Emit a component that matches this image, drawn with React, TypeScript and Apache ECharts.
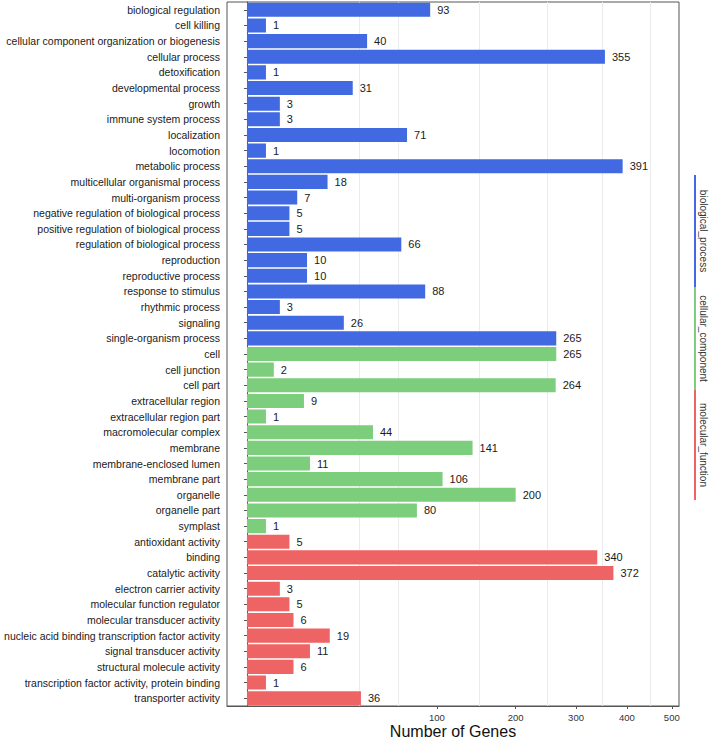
import React, { useEffect, useRef } from "react";
import * as echarts from "echarts";

const bpTerms = [
  "biological regulation", "cell killing", "cellular component organization or biogenesis",
  "cellular process", "detoxification", "developmental process", "growth",
  "immune system process", "localization", "locomotion", "metabolic process",
  "multicellular organismal process", "multi-organism process",
  "negative regulation of biological process", "positive regulation of biological process",
  "regulation of biological process", "reproduction", "reproductive process",
  "response to stimulus", "rhythmic process", "signaling", "single-organism process",
];
const bpValues = [93, 1, 40, 355, 1, 31, 3, 3, 71, 1, 391, 18, 7, 5, 5, 66, 10, 10, 88, 3, 26, 265];

const ccTerms = [
  "cell", "cell junction", "cell part", "extracellular region", "extracellular region part",
  "macromolecular complex", "membrane", "membrane-enclosed lumen", "membrane part",
  "organelle", "organelle part", "symplast",
];
const ccValues = [265, 2, 264, 9, 1, 44, 141, 11, 106, 200, 80, 1];

const mfTerms = [
  "antioxidant activity", "binding", "catalytic activity", "electron carrier activity",
  "molecular function regulator", "molecular transducer activity",
  "nucleic acid binding transcription factor activity", "signal transducer activity",
  "structural molecule activity", "transcription factor activity, protein binding",
  "transporter activity",
];
const mfValues = [5, 340, 372, 3, 5, 6, 19, 11, 6, 1, 36];

const ontologies = ["biological_process", "cellular_component", "molecular_function"];
const ontologyColors = ["#4169E1", "#7CCD7C", "#EE6363"];

const xTicks = [100, 200, 300, 400, 500];
const gridValues = [35, 63, 150, 250, 350, 450];

const FONT = "'Liberation Sans', Arial, Helvetica, sans-serif";

export default function App() {
  const ref = useRef<HTMLDivElement>(null);

  useEffect(() => {
    if (!ref.current) return;
    const chart = echarts.init(ref.current, null, { renderer: "svg" });

    const groups = [
      { terms: bpTerms, values: bpValues, color: ontologyColors[0] },
      { terms: ccTerms, values: ccValues, color: ontologyColors[1] },
      { terms: mfTerms, values: mfValues, color: ontologyColors[2] },
    ];
    const categories: string[] = [];
    const raw: number[] = [];
    const data: any[] = [];
    groups.forEach((g) => {
      g.terms.forEach((t, i) => {
        categories.push(t);
        raw.push(g.values[i]);
        data.push({ value: Math.sqrt(g.values[i]), itemStyle: { color: g.color } });
      });
    });

    const stripX = 695;
    const segs = [
      [175, 287],
      [287, 390],
      [390, 500],
    ];
    const graphics: any[] = [];
    segs.forEach((s, i) => {
      graphics.push({
        type: "line",
        shape: { x1: stripX, y1: s[0], x2: stripX, y2: s[1] },
        style: { stroke: ontologyColors[i], lineWidth: 2 },
        silent: true,
      });
      graphics.push({
        type: "text",
        x: 703,
        y: (s[0] + s[1]) / 2,
        rotation: -Math.PI / 2,
        style: {
          text: ontologies[i],
          fill: "#333",
          font: `10px ${FONT}`,
          align: "center",
          verticalAlign: "middle",
        },
        silent: true,
      });
    });

    chart.setOption({
      animation: false,
      backgroundColor: "#ffffff",
      textStyle: { fontFamily: FONT },
      grid: {
        left: 227,
        right: 30,
        top: 2,
        bottom: 33,
        show: true,
        borderColor: "#555",
        borderWidth: 1,
        backgroundColor: "transparent",
        containLabel: false,
        outerBoundsMode: "none",
      },
      xAxis: {
        type: "value",
        min: -1.05,
        max: 22.74,
        name: "Number of Genes",
        nameLocation: "middle",
        nameGap: 17,
        nameMoveOverlap: false,
        nameTextStyle: { fontSize: 16, color: "#111", fontFamily: FONT },
        axisLine: { show: true, lineStyle: { color: "#555", width: 1 } },
        axisTick: {
          show: true,
          length: 3,
          lineStyle: { color: "#555" },
          customValues: xTicks.map((v) => Math.sqrt(v)),
        },
        axisLabel: {
          show: true,
          customValues: xTicks.map((v) => Math.sqrt(v)),
          formatter: (v: number) => String(Math.round(v * v)),
          fontSize: 9.5,
          color: "#333",
          margin: 6,
          fontFamily: FONT,
        },
        splitLine: { show: false },
      },
      yAxis: {
        type: "category",
        inverse: true,
        data: categories,
        axisLine: { show: true, lineStyle: { color: "#555", width: 1 } },
        axisTick: { show: true, alignWithLabel: true, length: 3, lineStyle: { color: "#555" } },
        axisLabel: {
          interval: 0,
          fontSize: 10.5,
          color: "#1a1a1a",
          margin: 7,
          fontFamily: FONT,
        },
        splitLine: { show: false },
      },
      series: [
        {
          type: "line",
          data: [],
          z: 1,
          silent: true,
          markLine: {
            z: 1,
            silent: true,
            symbol: "none",
            label: { show: false },
            lineStyle: { color: "#ebebeb", width: 1, type: "solid" },
            data: gridValues.map((v) => ({ xAxis: Math.sqrt(v) })),
          },
        },
        {
          type: "bar",
          z: 2,
          barWidth: "90%",
          data,
          label: {
            show: true,
            position: "right",
            distance: 7,
            formatter: (p: any) => String(raw[p.dataIndex]),
            fontSize: 11,
            color: "#1a1a1a",
            fontFamily: FONT,
          },
        },
      ],
      graphic: graphics,
    });

    return () => chart.dispose();
  }, []);

  return (
    <div
      ref={ref}
      style={{ position: "fixed", left: 0, top: 0, width: 709, height: 739, background: "#fff" }}
    />
  );
}
